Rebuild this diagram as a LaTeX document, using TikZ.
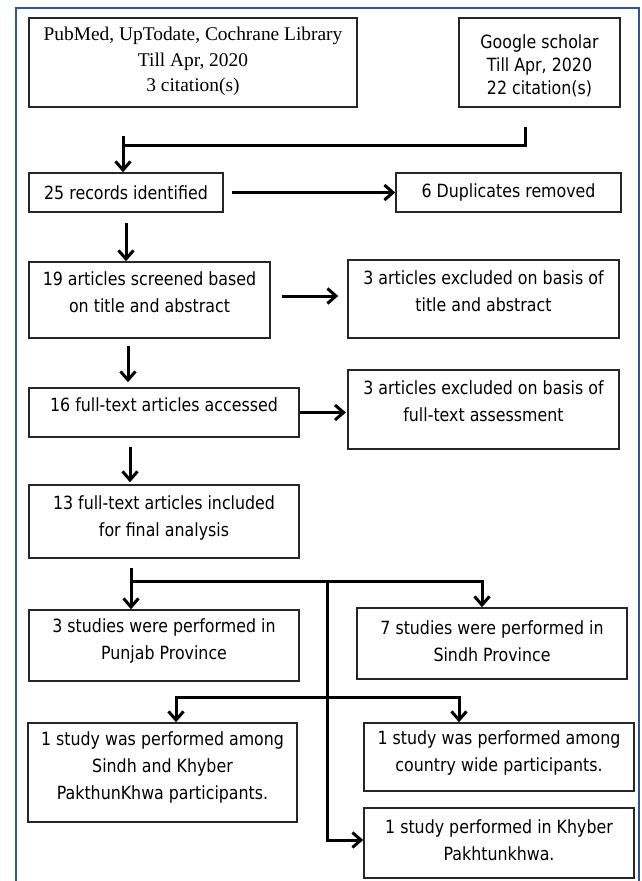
\documentclass[tikz,border=0pt]{standalone}
\usepackage{fontspec}
\setmainfont{Liberation Serif}
\newfontfamily\tahomalike[FakeStretch=0.87]{DejaVu Sans}
\usetikzlibrary{arrows.meta,calc}
\definecolor{framebl}{RGB}{47,85,151}
\tikzset{
  blk/.style={draw=black!85, line width=1.6pt, align=center, inner sep=0pt,
    font=\tahomalike\fontsize{18.2}{27}\selectfont},
  sz/.style 2 args={minimum width=#1pt, minimum height=#2pt},
  lift/.style={text depth=#1pt},
  link/.style={line width=3pt},
  arr/.style={link, -{Straight Barb[length=8.5pt,width=15pt]}},
}

\begin{document}
\begin{tikzpicture}[x=1pt,y=-1pt]
\useasboundingbox (0,0) rectangle (641,881);
\draw[framebl, line width=2pt] (16,895) -- (16,8) -- (639,8) -- (639,895);

\node[blk, sz={328}{89}, lift=6, font=\rmfamily\fontsize{19.4}{25.5}\selectfont] (pubmed) at (193,62.5)
  {PubMed, UpTodate, Cochrane Library\\Till Apr, 2020\\3 citation(s)};
\node[blk, sz={161}{89}, text height=67pt, font=\tahomalike\fontsize{18.2}{23}\selectfont] (scholar) at (539.5,62.5)
  {Google scholar\\Till Apr, 2020\\22 citation(s)};

\node[blk, sz={194}{39}] (records) at (126,192.5) {25 records identified};
\node[blk, sz={225}{39}] (dups) at (508.5,192.5) {6 Duplicates removed};

\node[blk, sz={241}{76}, lift=15] (screen) at (149.5,300) {19 articles screened based\\on title and abstract};
\node[blk, sz={271}{78}, lift=15] (exclTitle) at (483.5,299) {3 articles excluded on basis of\\title and abstract};

\node[blk, sz={270}{49}, lift=15] (fulltext) at (164,412.5) {16 full-text articles accessed};
\node[blk, sz={271}{79}, lift=17] (exclFull) at (483.5,409.5) {3 articles excluded on basis of\\full-text assessment};

\node[blk, sz={270}{73}, lift=11.3] (included) at (164,521.5) {13 full-text articles included\\for final analysis};

\node[blk, sz={270}{71}, lift=13.3] (punjab) at (164,645.5) {3 studies were performed in\\Punjab Province};
\node[blk, sz={270}{71}, lift=5] (sindh) at (492,643.5) {7 studies were performed in\\Sindh Province};

\node[blk, sz={269}{99}, lift=13.3] (sindhkp) at (162.5,772.5) {1 study was performed among\\Sindh and Khyber\\PakthunKhwa participants.};
\node[blk, sz={270}{68}, lift=11.3] (country) at (499,757) {1 study was performed among\\country wide participants.};
\node[blk, sz={270}{70}, lift=6] (kpk) at (499,843) {1 study performed in Khyber\\Pakhtunkhwa.};

% search to records
\coordinate (srcL) at ($(pubmed.south)+(-70,28)$);
\coordinate (srcR) at ($(scholar.south)+(-14.5,19)$);
\draw[link] (srcR) -- ++(0,19) -| (srcL);
\draw[arr] (srcL) -- (srcL |- records.north);

\draw[arr] ($(records.east)+(8,0)$) -- (dups.west);
\draw[arr] ($(records.south)+(0,10)$) -- (records.south |- screen.north);
\draw[arr] ($(screen.east)+(11,-4)$) -- ($(exclTitle.west)+(-9,-3)$);
\draw[arr] ($(screen.south)+(-21.5,7)$) -- ($(fulltext.north)+(-36,-5)$);
\draw[arr] (fulltext.east) -- ($(fulltext.east)+(46,0)$);
\draw[arr] ($(fulltext.south)+(-34,9)$) -- ($(included.north)+(-34,-2)$);

% studies by province
\coordinate (split) at ($(included.south)+(-33,23)$);
\coordinate (hub) at ($(included.south)+(163,23)$);
\coordinate (hub2) at ($(included.south)+(163,139)$);
\draw[link] ($(included.south)+(-33,9)$) -- (split);
\draw[arr] (split) -- (split |- punjab.north);
\draw[arr] (split) -| ($(sindh.north)+(-10,0)$);
\draw[arr] (hub) |- ($(kpk.west)+(0,-3)$);
\draw[arr] (hub2) -| ($(sindhkp.north)+(13.5,0)$);
\draw[arr] (hub2) -| ($(country.north)+(-40,0)$);
\end{tikzpicture}
\end{document}
